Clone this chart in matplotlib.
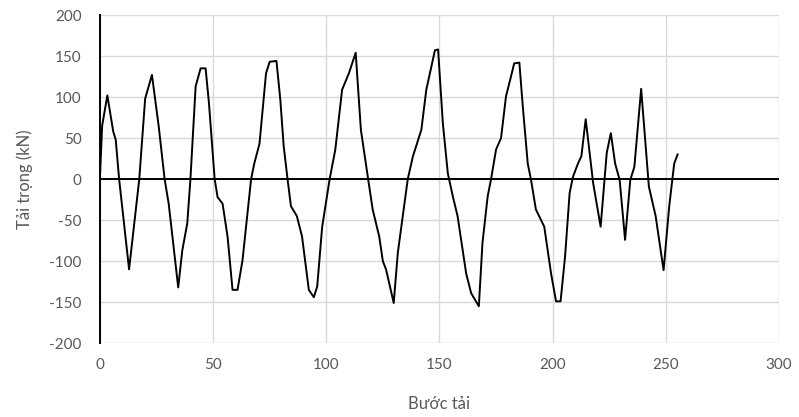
import matplotlib.pyplot as plt

# load steps and measured load (kN)
buoc = [0, 1, 3.3, 5.9, 7, 8.5, 12.9, 17.4, 20, 23, 26, 28.6, 30.4, 34.6, 36.4, 38.6,
        40, 42.3, 44.5, 46.7, 48.2, 50.7, 52, 54.2, 56.4, 58.6, 60.8, 63, 66.8, 68.2,
        70.5, 73.4, 75, 78, 79.7, 81.2, 82.9, 84.4, 87, 89.3, 92.3, 94.5, 96, 98.2,
        101.5, 104, 107, 110, 113, 115.3, 118.5, 120.5, 123.4, 125, 126.4, 129.8,
        131.6, 136, 138.3, 142, 144.2, 148, 149.4, 151.5, 153.7, 155.9, 158, 161.8,
        164, 167.4, 169, 171.3, 172.8, 175, 177.2, 179.4, 181.6, 183, 185.3, 186.8,
        189, 190.4, 192.6, 196.3, 199.3, 201.5, 203.5, 205.5, 207.5, 209, 211.2, 212.7,
        214.6, 217.9, 221.2, 223.9, 225.7, 227.6, 229.6, 232, 234.3, 236.1, 239.1,
        242.5, 245.5, 249, 251.5, 253.7, 255.2]
tai = [0, 65, 102, 58, 48, 0, -110, 0, 98, 127, 64, 0, -30, -132, -87, -54,
       0, 113, 135, 135, 92, 0, -22, -30, -70, -135, -135, -99, 0, 19,
       43, 129, 143, 144, 97, 40, 0, -33, -45, -70, -135, -144, -131, -58,
       0, 36, 109, 129, 154, 60, 0, -37, -70, -100, -110, -151,
       -90, 0, 28, 60, 109, 157, 158, 68, 7, -21, -45, -115,
       -139, -155, -78, -21, 0, 36, 50, 101, 125, 141, 142, 89,
       19, 0, -37, -58, -115, -149, -149, -94, -17, 3, 19, 28,
       73, -5, -58, 32, 56, 19, -1, -74, -1, 15, 110,
       -9, -45, -111, -33, 19, 30]

xticks = [0, 50, 100, 150, 200, 250, 300]
yticks = [-200, -150, -100, -50, 0, 50, 100, 150, 200]

plt.rcParams['font.family'] = ['Lato', 'DejaVu Sans']
plt.rcParams['axes.unicode_minus'] = False

fig = plt.figure(figsize=(7.99, 4.17), dpi=100)
ax = fig.add_axes([0.125, 0.177, 0.85, 0.787])

ax.plot(buoc, tai, color='black', linewidth=1.4, zorder=3,
        solid_joinstyle='round')
ax.axhline(0, color='black', linewidth=1.4, zorder=2)

ax.set_xlim(0, 300)
ax.set_ylim(-200, 200)
ax.set_xticks(xticks)
ax.set_yticks(yticks)
ax.grid(True, color='#d9d9d9', linewidth=1)
ax.set_axisbelow(True)

for s in ['top', 'right', 'bottom']:
    ax.spines[s].set_visible(False)
ax.spines['left'].set_color('black')
ax.spines['left'].set_linewidth(1.4)
ax.spines['left'].set_zorder(4)

ax.tick_params(length=0, labelsize=11, colors='#595959')
ax.tick_params(axis='y', pad=13)
ax.tick_params(axis='x', pad=11)

ax.set_xlabel('Bước tải', fontsize=12, color='#595959', labelpad=17)
ax.set_ylabel('Tải trọng (kN)', fontsize=12, color='#595959', labelpad=12)

fig.savefig('out.png', dpi=100)
